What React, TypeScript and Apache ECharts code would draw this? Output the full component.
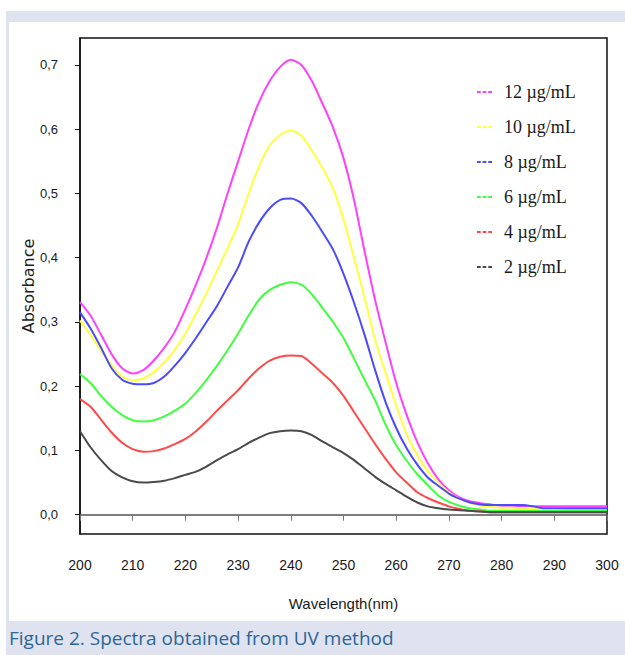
import React, { useEffect, useRef } from "react";
import * as echarts from "echarts";

const wavelengths = [
  200, 202, 204, 206, 208, 210, 212, 214, 216, 218, 220, 222, 224, 226, 228, 230, 232, 234, 236, 238,
  240, 242, 244, 246, 248, 250, 252, 254, 256, 258, 260, 262, 264, 266, 268, 270, 272, 274, 276, 278,
  280, 282, 284, 286, 288, 290, 292, 294, 296, 298, 300,
];

const c12 = [
  0.331, 0.31, 0.28, 0.25, 0.228, 0.22, 0.225, 0.24, 0.26, 0.285, 0.32, 0.358, 0.4, 0.447, 0.5, 0.55, 0.6, 0.643, 0.675, 0.697,
  0.708, 0.7, 0.675, 0.64, 0.603, 0.555, 0.49, 0.41, 0.334, 0.268, 0.205, 0.155, 0.113, 0.08, 0.055, 0.038, 0.027, 0.021, 0.018, 0.016,
  0.014, 0.014, 0.013, 0.013, 0.013, 0.013, 0.013, 0.013, 0.013, 0.013, 0.013,
];
const c10 = [
  0.302, 0.28, 0.255, 0.233, 0.215, 0.209, 0.212, 0.222, 0.237, 0.257, 0.282, 0.313, 0.345, 0.38, 0.415, 0.452, 0.5, 0.543, 0.575, 0.591,
  0.598, 0.59, 0.567, 0.54, 0.508, 0.46, 0.4, 0.338, 0.272, 0.22, 0.17, 0.125, 0.093, 0.068, 0.05, 0.035, 0.025, 0.018, 0.014, 0.012,
  0.011, 0.011, 0.01, 0.01, 0.01, 0.01, 0.01, 0.01, 0.01, 0.01, 0.01,
];
const c8 = [
  0.315, 0.29, 0.26, 0.228, 0.21, 0.204, 0.203, 0.205, 0.215, 0.232, 0.252, 0.275, 0.3, 0.325, 0.355, 0.385, 0.425, 0.455, 0.477, 0.49,
  0.492, 0.485, 0.465, 0.44, 0.413, 0.375, 0.33, 0.28, 0.225, 0.175, 0.135, 0.103, 0.078, 0.058, 0.045, 0.033, 0.025, 0.019, 0.016, 0.015,
  0.015, 0.015, 0.015, 0.013, 0.01, 0.01, 0.01, 0.01, 0.01, 0.01, 0.01,
];
const c6 = [
  0.219, 0.205, 0.185, 0.168, 0.155, 0.147, 0.145, 0.147, 0.153, 0.162, 0.173, 0.19, 0.21, 0.232, 0.256, 0.282, 0.31, 0.335, 0.35, 0.358,
  0.362, 0.358, 0.343, 0.322, 0.3, 0.275, 0.243, 0.21, 0.178, 0.14, 0.108, 0.084, 0.063, 0.046, 0.03, 0.02, 0.014, 0.01, 0.008, 0.006,
  0.006, 0.006, 0.006, 0.006, 0.006, 0.006, 0.007, 0.007, 0.007, 0.007, 0.007,
];
const c4 = [
  0.18, 0.168, 0.148, 0.128, 0.112, 0.102, 0.098, 0.099, 0.103, 0.11, 0.118, 0.13, 0.145, 0.162, 0.178, 0.194, 0.212, 0.228, 0.24, 0.246,
  0.248, 0.247, 0.235, 0.22, 0.205, 0.185, 0.16, 0.135, 0.11, 0.087, 0.066, 0.05, 0.035, 0.026, 0.019, 0.013, 0.009, 0.006, 0.005, 0.004,
  0.004, 0.004, 0.004, 0.004, 0.004, 0.004, 0.004, 0.004, 0.004, 0.004, 0.004,
];
const c2 = [
  0.13, 0.105, 0.085, 0.068, 0.058, 0.052, 0.05, 0.051, 0.053, 0.057, 0.062, 0.067, 0.075, 0.085, 0.094, 0.102, 0.112, 0.12, 0.127, 0.13,
  0.131, 0.13, 0.124, 0.114, 0.105, 0.096, 0.085, 0.072, 0.059, 0.048, 0.038, 0.028, 0.019, 0.013, 0.01, 0.008, 0.007, 0.006, 0.005, 0.004,
  0.004, 0.004, 0.004, 0.004, 0.004, 0.004, 0.004, 0.004, 0.004, 0.004, 0.004,
];

const seriesNames = ["12 µg/mL", "10 µg/mL", "8 µg/mL", "6 µg/mL", "4 µg/mL", "2 µg/mL"];
const seriesValues = [c12, c10, c8, c6, c4, c2];
const seriesColors = ["#ff40ff", "#ffff40", "#4a4aff", "#40ff40", "#ff4a4a", "#4a4a4a"];

const yTicks = [0, 0.1, 0.2, 0.3, 0.4, 0.5, 0.6, 0.7];
const xTicks = [200, 210, 220, 230, 240, 250, 260, 270, 280, 290, 300];

const caption = "Figure 2. Spectra obtained from UV method";
const lavender = "#dfe3f0";
const sans = "'Liberation Sans', Arial, sans-serif";

export default function App() {
  const ref = useRef<HTMLDivElement>(null);
  useEffect(() => {
    if (!ref.current) return;
    const chart = echarts.init(ref.current, null, { renderer: "svg" });
    const dash = "path://M0,0h4v2h-4zM6,0h4v2h-4zM12,0h4v2h-4z";
    chart.setOption({
      animation: false,
      backgroundColor: "#ffffff",
      title: {
        text: caption,
        left: 9,
        top: 628,
        textStyle: { fontFamily: "'Open Sans', 'Noto Sans', sans-serif", fontSize: 19, fontWeight: "normal", color: "#2f6596" },
        padding: 0,
      },
      graphic: [
        { type: "rect", z: -10, shape: { x: 6, y: 11, width: 619, height: 11 }, style: { fill: lavender } },
        { type: "rect", z: -10, shape: { x: 6, y: 11, width: 3, height: 644 }, style: { fill: lavender } },
        { type: "rect", z: -10, shape: { x: 6, y: 621, width: 619, height: 34 }, style: { fill: lavender } },
      ],
      legend: {
        orient: "vertical",
        left: 472,
        top: 77,
        itemGap: 15,
        itemWidth: 15,
        itemHeight: 2,
        data: seriesNames.map((n) => ({ name: n, icon: dash })),
        textStyle: {
          fontFamily: "'Liberation Serif', 'DejaVu Serif', serif",
          fontSize: 18,
          lineHeight: 20,
          color: "#1a1a1a",
          padding: [0, 0, 0, 7],
        },
      },
      grid: { left: 80, top: 38, right: 18, bottom: 121, show: true, borderColor: "#111", borderWidth: 1.5 },
      xAxis: {
        type: "value",
        min: 200,
        max: 300,
        interval: 10,
        name: "Wavelength(nm)",
        nameLocation: "middle",
        nameGap: 62,
        nameMoveOverlap: false,
        nameTextStyle: { fontFamily: sans, fontSize: 15, color: "#1a1a1a" },
        axisLine: { lineStyle: { color: "#555", width: 1.5 } },
        axisTick: { show: true, inside: false, length: 6, lineStyle: { color: "#777" }, customValues: xTicks },
        axisLabel: { margin: 24, fontFamily: sans, fontSize: 14, color: "#1a1a1a", customValues: xTicks },
        splitLine: { show: false },
      },
      yAxis: {
        type: "value",
        min: -0.03,
        max: 0.742,
        name: "Absorbance",
        nameLocation: "middle",
        nameGap: 44,
        nameMoveOverlap: false,
        nameTextStyle: { fontFamily: "'DejaVu Sans', sans-serif", fontSize: 16, color: "#222" },
        axisLine: { show: true, lineStyle: { color: "#111", width: 1.5 } },
        axisTick: { show: true, inside: false, length: 5, lineStyle: { color: "#111" }, customValues: yTicks },
        axisLabel: {
          margin: 22,
          fontFamily: sans,
          fontSize: 13,
          color: "#1a1a1a",
          customValues: yTicks,
          formatter: (v: number) => v.toFixed(1).replace(".", ","),
        },
        splitLine: { show: false },
      },
      series: seriesNames.map((name, k) => ({
        name,
        type: "line",
        showSymbol: false,
        symbol: "none",
        smooth: 0.25,
        color: seriesColors[k],
        lineStyle: { width: 2, color: seriesColors[k] },
        data: wavelengths.map((w, i) => [w, seriesValues[k][i]]),
      })),
    });
    return () => chart.dispose();
  }, []);
  return <div ref={ref} style={{ position: "fixed", left: 0, top: 0, width: 625, height: 655 }} />;
}
